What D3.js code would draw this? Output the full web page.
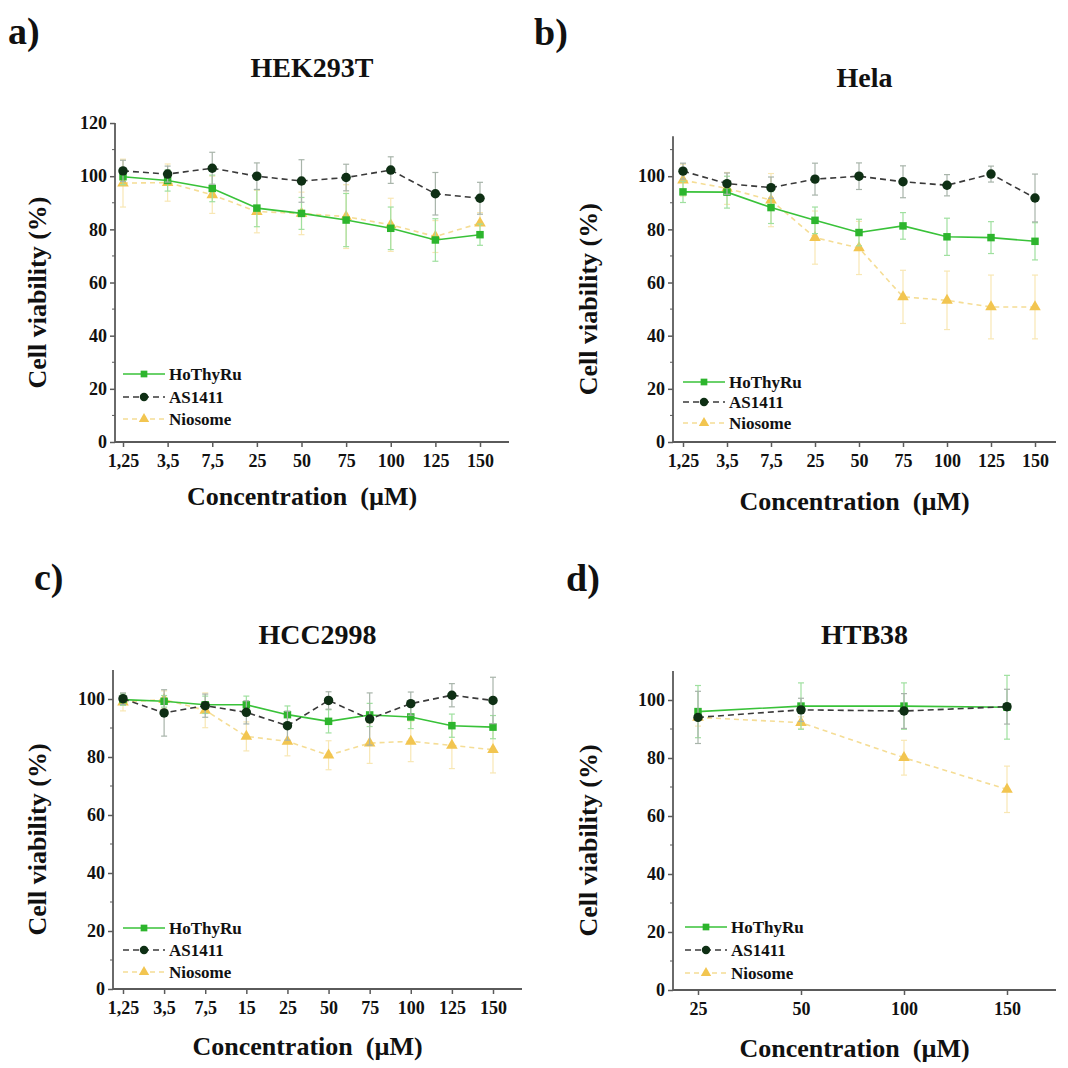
<!DOCTYPE html>
<html>
<head>
<meta charset="utf-8">
<script src="https://cdn.jsdelivr.net/npm/d3@7"></script>
<style>
  body { margin: 0; background: #fff; }
  svg text { font-family: "Liberation Serif", "Times New Roman", serif; font-weight: bold; }
</style>
</head>
<body>
<div class="vis"></div>
<script>
const W = 1068, H = 1068;
const FONT = "Liberation Serif, Times New Roman, serif";

const seriesNames = ["HoThyRu", "AS1411", "Niosome"];

// a) HEK293T
const concA = ["1,25", "3,5", "7,5", "25", "50", "75", "100", "125", "150"];
const hekHoThyRu = [99.8, 98.4, 95.4, 88, 86, 83.5, 80.4, 76, 78];
const hekHoThyRuErr = [3, 4, 5, 7, 6, 10, 8, 8, 4];
const hekAS1411 = [102, 100.8, 103, 100, 98.2, 99.5, 102.3, 93.4, 91.7];
const hekAS1411Err = [4, 3, 6, 5, 8, 5, 5, 8, 6];
const hekNiosome = [97.4, 97.6, 93, 86.7, 86, 84.8, 81.7, 77.3, 82.3];
const hekNiosomeErr = [9, 7, 7, 8, 8, 12, 10, 6, 4];

// b) Hela
const concB = ["1,25", "3,5", "7,5", "25", "50", "75", "100", "125", "150"];
const helaHoThyRu = [94.1, 94, 88.2, 83.4, 78.8, 81.3, 77.2, 76.9, 75.5];
const helaHoThyRuErr = [4, 6, 6, 5, 5, 5, 7, 6, 7];
const helaAS1411 = [101.9, 97.2, 95.7, 98.9, 100, 97.9, 96.6, 100.8, 91.8];
const helaAS1411Err = [3, 4, 4, 6, 5, 6, 4, 3, 9];
const helaNiosome = [98.5, 95.4, 91, 76.9, 73, 54.6, 53.3, 50.8, 50.8];
const helaNiosomeErr = [6, 6, 10, 10, 10, 10, 11, 12, 12];

// c) HCC2998
const concC = ["1,25", "3,5", "7,5", "15", "25", "50", "75", "100", "125", "150"];
const hccHoThyRu = [99.8, 99.2, 98, 98, 94.6, 92.3, 94.5, 93.8, 90.8, 90.3];
const hccHoThyRuErr = [2, 2, 3, 3, 3, 4, 4, 4, 4, 4];
const hccAS1411 = [100.1, 95.2, 97.7, 95.4, 90.8, 99.5, 93.1, 98.4, 101.3, 99.5];
const hccAS1411Err = [2, 8, 4, 4, 5, 3, 9, 4, 4, 8];
const hccNiosome = [98.9, 99.8, 96.1, 87.1, 85.4, 80.6, 84.8, 85.4, 84, 82.5];
const hccNiosomeErr = [3, 3, 6, 5, 5, 5, 7, 7, 8, 8];

// d) HTB38
const concD = ["25", "50", "100", "150"];
const htbHoThyRu = [96, 97.9, 97.9, 97.5];
const htbHoThyRuErr = [9, 8, 8, 11];
const htbAS1411 = [94, 96.6, 96.2, 97.7];
const htbAS1411Err = [9, 4, 6, 6];
const htbNiosome = [94, 92.2, 80.1, 69.2];
const htbNiosomeErr = [3, 2, 6, 8];

const svg = d3.select(".vis").append("svg").attr("width", W).attr("height", H);

const style = {
  HoThyRu: { line: "#39c239", dash: null, mark: "#2db52d", err: "#9fe09f", shape: d3.symbolSquare, size: 56 },
  AS1411: { line: "#3a3a3a", dash: "6,4", mark: "#0e2f14", err: "#a8b4aa", shape: d3.symbolCircle, size: 70 },
  Niosome: { line: "#f5dd95", dash: "5,4", mark: "#f2c550", err: "#f8e7b4", shape: d3.symbolTriangle, size: 58 }
};

const panels = [
  { letter: "a)", title: "HEK293T", cats: concA, vals: [hekHoThyRu, hekAS1411, hekNiosome], errs: [hekHoThyRuErr, hekAS1411Err, hekNiosomeErr],
    ymax: 120, y0: 442, ppu: 2.658, left: 115, right: 509, first: 123, last: 480,
    letterX: 8, letterY: 44, titleY: 77, xtitleY: 505, ytitleX: 46, legX: 123, legY: [374, 397, 419] },
  { letter: "b)", title: "Hela", cats: concB, vals: [helaHoThyRu, helaAS1411, helaNiosome], errs: [helaHoThyRuErr, helaAS1411Err, helaNiosomeErr],
    ymax: 115, y0: 442, ppu: 2.658, left: 673, right: 1056, first: 683, last: 1035,
    letterX: 534, letterY: 45, titleY: 87, xtitleY: 510, ytitleX: 597, legX: 683, legY: [382, 402, 423] },
  { letter: "c)", title: "HCC2998", cats: concC, vals: [hccHoThyRu, hccAS1411, hccNiosome], errs: [hccHoThyRuErr, hccAS1411Err, hccNiosomeErr],
    ymax: 110, y0: 989, ppu: 2.9, left: 113, right: 522, first: 123, last: 493,
    letterX: 34, letterY: 590, titleY: 644, xtitleY: 1055, ytitleX: 46, legX: 123, legY: [928, 950, 972] },
  { letter: "d)", title: "HTB38", cats: concD, vals: [htbHoThyRu, htbAS1411, htbNiosome], errs: [htbHoThyRuErr, htbAS1411Err, htbNiosomeErr],
    ymax: 110, y0: 990, ppu: 2.9, left: 673, right: 1056, first: 698, last: 1007,
    letterX: 566, letterY: 591, titleY: 644, xtitleY: 1057, ytitleX: 597, legX: 685, legY: [927, 950, 973] }
];

panels.forEach((p) => {
  const g = svg.append("g");
  const y = d3.scaleLinear().domain([0, p.ymax]).range([p.y0, p.y0 - p.ymax * p.ppu]);
  const x = d3.scaleLinear().domain([0, p.cats.length - 1]).range([p.first, p.last]);
  const axisColor = "#5a5a5a";

  // panel letter and title
  g.append("text").attr("x", p.letterX).attr("y", p.letterY).attr("font-family", FONT)
    .attr("font-size", 38).attr("fill", "#111").text(p.letter);
  g.append("text").attr("x", (p.left + p.right) / 2).attr("y", p.titleY).attr("font-family", FONT)
    .attr("text-anchor", "middle").attr("font-size", 28).attr("fill", "#111").text(p.title);

  // y axis
  const yAxis = g.append("g").attr("transform", `translate(${p.left},0)`)
    .call(d3.axisLeft(y).tickValues(d3.range(0, p.ymax + 1, 20)).tickSize(5).tickPadding(3));
  yAxis.select(".domain").remove();
  yAxis.selectAll("line").attr("stroke", axisColor).attr("stroke-width", 1.5);
  yAxis.selectAll("text").attr("font-size", 18).attr("font-family", FONT).attr("font-weight", "bold").attr("fill", "#111");
  g.selectAll(".yminor").data(d3.range(10, p.ymax, 20)).enter().append("line")
    .attr("x1", p.left - 3).attr("x2", p.left).attr("y1", (d) => y(d)).attr("y2", (d) => y(d))
    .attr("stroke", axisColor).attr("stroke-width", 1);
  g.append("line").attr("x1", p.left).attr("x2", p.left)
    .attr("y1", y(0) + 0.75).attr("y2", y(p.ymax)).attr("stroke", axisColor).attr("stroke-width", 1.8);

  // x axis
  const xAxis = g.append("g").attr("transform", `translate(0,${p.y0})`)
    .call(d3.axisBottom(x).tickValues(d3.range(p.cats.length)).tickFormat((i) => p.cats[i]).tickSize(5).tickPadding(7));
  xAxis.select(".domain").remove();
  xAxis.selectAll("line").attr("stroke", axisColor).attr("stroke-width", 1.5);
  xAxis.selectAll("text").attr("font-size", 18).attr("font-family", FONT).attr("font-weight", "bold").attr("fill", "#111");
  g.append("line").attr("x1", p.left).attr("x2", p.right)
    .attr("y1", p.y0).attr("y2", p.y0).attr("stroke", axisColor).attr("stroke-width", 1.8);

  // axis titles
  g.append("text").attr("x", (p.left + p.right) / 2 - 10).attr("y", p.xtitleY).attr("font-family", FONT)
    .attr("text-anchor", "middle").attr("font-size", 26).attr("fill", "#111")
    .attr("xml:space", "preserve").text("Concentration  (\u00b5M)");
  g.append("text").attr("transform", `translate(${p.ytitleX},${(y(0) + y(p.ymax)) / 2 + 10}) rotate(-90)`)
    .attr("font-family", FONT)
    .attr("text-anchor", "middle").attr("font-size", 26).attr("fill", "#111").text("Cell viability (%)");

  // series: draw Niosome first, then HoThyRu, then AS1411
  const order = [2, 0, 1];
  order.forEach((k) => {
    const name = seriesNames[k];
    const s = style[name];
    const pts = p.vals[k].map((v, i) => ({ i, v, e: p.errs[k][i] }));
    const eb = g.append("g");
    pts.forEach((d) => {
      eb.append("line").attr("x1", x(d.i)).attr("x2", x(d.i)).attr("y1", y(d.v - d.e)).attr("y2", y(d.v + d.e))
        .attr("stroke", s.err).attr("stroke-width", 1.2);
      [d.v - d.e, d.v + d.e].forEach((t) => {
        eb.append("line").attr("x1", x(d.i) - 3).attr("x2", x(d.i) + 3).attr("y1", y(t)).attr("y2", y(t))
          .attr("stroke", s.err).attr("stroke-width", 1.2);
      });
    });
    g.append("path").datum(pts)
      .attr("d", d3.line().x((d) => x(d.i)).y((d) => y(d.v)))
      .attr("fill", "none").attr("stroke", s.line).attr("stroke-width", 1.6)
      .attr("stroke-dasharray", s.dash);
    g.selectAll(null).data(pts).enter().append("path")
      .attr("transform", (d) => `translate(${x(d.i)},${y(d.v)})`)
      .attr("d", d3.symbol().type(s.shape).size(s.size))
      .attr("fill", s.mark);
  });

  // legend
  seriesNames.forEach((name, k) => {
    const s = style[name];
    const ly = p.legY[k];
    g.append("line").attr("x1", p.legX).attr("x2", p.legX + 42).attr("y1", ly).attr("y2", ly)
      .attr("stroke", s.line).attr("stroke-width", 1.6).attr("stroke-dasharray", s.dash);
    g.append("path").attr("transform", `translate(${p.legX + 21},${ly})`)
      .attr("d", d3.symbol().type(s.shape).size(s.size * 0.8)).attr("fill", s.mark);
    g.append("text").attr("x", p.legX + 46).attr("y", ly + 5.5).attr("font-family", FONT)
      .attr("font-size", 17).attr("fill", "#111").text(name);
  });
});
</script>
</body>
</html>
